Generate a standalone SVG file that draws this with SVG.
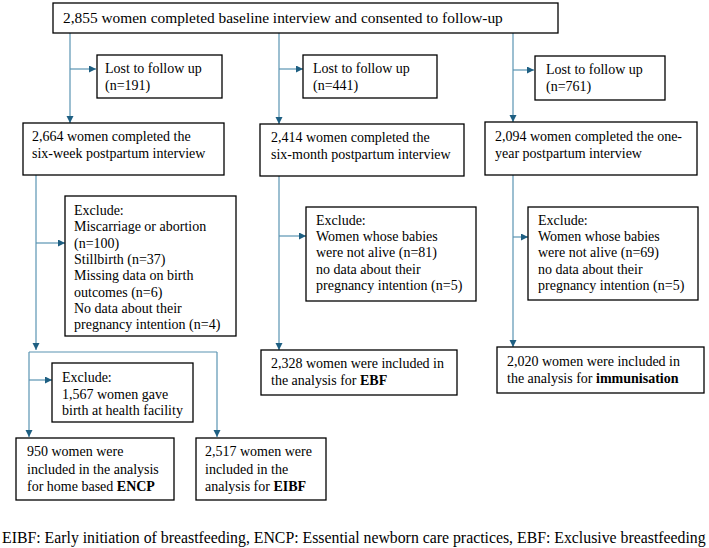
<svg xmlns="http://www.w3.org/2000/svg" width="709" height="548" viewBox="0 0 709 548" font-family="Liberation Serif, Times New Roman, serif">
<defs>
<marker id="ah" markerUnits="userSpaceOnUse" markerWidth="8" markerHeight="8" refX="7" refY="3.5" orient="auto">
<path d="M0,0 L7,3.5 L0,7 z" fill="#1e5f82"/>
</marker>
</defs>
<style>
.box{fill:#fff;stroke:#000;stroke-width:1.3}
.t{font-size:14px;fill:#000}
.h{font-size:15.4px;fill:#000}
.f{font-size:15.8px;fill:#000}
.b{font-weight:bold}
.c{fill:none;stroke:#5a94b2;stroke-width:1.2}
.a{marker-end:url(#ah)}
</style>
<rect width="709" height="548" fill="#fff"/>
<g id="connectors">
<path class="c a" d="M70,33 V123"/>
<path class="c a" d="M70,69 H96"/>
<path class="c a" d="M279,33 V124"/>
<path class="c a" d="M279,69 H303"/>
<path class="c a" d="M513,33 V122"/>
<path class="c a" d="M513,70 H534"/>
<path class="c a" d="M36,175 V350"/>
<path class="c a" d="M36,243 H65"/>
<path class="c" d="M29,352 H217"/>
<path class="c a" d="M29,352 V437"/>
<path class="c a" d="M217,352 V437"/>
<path class="c a" d="M29,380 H52"/>
<path class="c a" d="M279,176 V350"/>
<path class="c a" d="M279,236 H306"/>
<path class="c a" d="M513,175 V347"/>
<path class="c a" d="M513,237 H528"/>
</g>
<g id="baseline" font-family="Liberation Serif, serif">
<rect class="box" x="53" y="3" width="505" height="30"/>
<text class="h" x="63" y="23">2,855 women completed baseline interview and consented to follow-up</text>
</g>
<g id="lost1" font-family="Liberation Serif, serif">
<rect class="box" x="97" y="55" width="125" height="43"/>
<text class="t" x="105" y="73">Lost to follow up</text>
<text class="t" x="105" y="90">(n=191)</text>
</g>
<g id="lost2" font-family="Liberation Serif, serif">
<rect class="box" x="303" y="55" width="134" height="43"/>
<text class="t" x="313" y="73">Lost to follow up</text>
<text class="t" x="313" y="90">(n=441)</text>
</g>
<g id="lost3" font-family="Liberation Serif, serif">
<rect class="box" x="535" y="56" width="130" height="44"/>
<text class="t" x="546" y="74">Lost to follow up</text>
<text class="t" x="546" y="91">(n=761)</text>
</g>
<g id="sixweek" font-family="Liberation Serif, serif">
<rect class="box" x="23" y="123" width="201" height="52"/>
<text class="t" x="32" y="141">2,664 women completed the</text>
<text class="t" x="32" y="158">six-week postpartum interview</text>
</g>
<g id="sixmonth" font-family="Liberation Serif, serif">
<rect class="box" x="260" y="124" width="204" height="52"/>
<text class="t" x="271" y="142">2,414 women completed the</text>
<text class="t" x="271" y="159">six-month postpartum interview</text>
</g>
<g id="oneyear" font-family="Liberation Serif, serif">
<rect class="box" x="485" y="122" width="212" height="53"/>
<text class="t" x="495" y="141">2,094 women completed the one-</text>
<text class="t" x="495" y="158">year postpartum interview</text>
</g>
<g id="exclude1" font-family="Liberation Serif, serif">
<rect class="box" x="65" y="196" width="171" height="140"/>
<text class="t" x="74" y="215">Exclude:</text>
<text class="t" x="74" y="231.3">Miscarriage or abortion</text>
<text class="t" x="74" y="247.6">(n=100)</text>
<text class="t" x="74" y="263.9">Stillbirth (n=37)</text>
<text class="t" x="74" y="280.2">Missing data on birth</text>
<text class="t" x="74" y="296.5">outcomes (n=6)</text>
<text class="t" x="74" y="312.8">No data about their</text>
<text class="t" x="74" y="329.1">pregnancy intention (n=4)</text>
</g>
<g id="exclude2" font-family="Liberation Serif, serif">
<rect class="box" x="306" y="207" width="170" height="94"/>
<text class="t" x="316" y="225">Exclude:</text>
<text class="t" x="316" y="241.2">Women whose babies</text>
<text class="t" x="316" y="257.4">were not alive (n=81)</text>
<text class="t" x="316" y="273.6">no data about their</text>
<text class="t" x="316" y="289.8">pregnancy intention (n=5)</text>
</g>
<g id="exclude3" font-family="Liberation Serif, serif">
<rect class="box" x="528" y="207" width="170" height="93"/>
<text class="t" x="538" y="225">Exclude:</text>
<text class="t" x="538" y="241.2">Women whose babies</text>
<text class="t" x="538" y="257.4">were not alive (n=69)</text>
<text class="t" x="538" y="273.6">no data about their</text>
<text class="t" x="538" y="289.8">pregnancy intention (n=5)</text>
</g>
<g id="exclude4" font-family="Liberation Serif, serif">
<rect class="box" x="52" y="363" width="141" height="59"/>
<text class="t" x="62" y="382">Exclude:</text>
<text class="t" x="62" y="398.5">1,567 women gave</text>
<text class="t" x="62" y="415">birth at health facility</text>
</g>
<g id="ebf" font-family="Liberation Serif, serif">
<rect class="box" x="261" y="350" width="196" height="45"/>
<text class="t" x="271" y="368">2,328 women were included in</text>
<text class="t" x="271" y="385">the analysis for <tspan class="b">EBF</tspan></text>
</g>
<g id="immunisation" font-family="Liberation Serif, serif">
<rect class="box" x="497" y="347" width="207" height="46"/>
<text class="t" x="507" y="366">2,020 women were included in</text>
<text class="t" x="507" y="383">the analysis for <tspan class="b">immunisation</tspan></text>
</g>
<g id="encp" font-family="Liberation Serif, serif">
<rect class="box" x="16" y="438" width="158" height="62"/>
<text class="t" x="27" y="456">950 women were</text>
<text class="t" x="27" y="473.5">included in the analysis</text>
<text class="t" x="27" y="491">for home based <tspan class="b">ENCP</tspan></text>
</g>
<g id="eibf" font-family="Liberation Serif, serif">
<rect class="box" x="196" y="438" width="130" height="62"/>
<text class="t" x="205" y="456">2,517 women were</text>
<text class="t" x="205" y="473.5">included in the</text>
<text class="t" x="205" y="491">analysis for <tspan class="b">EIBF</tspan></text>
</g>
<g id="footnote" font-family="Liberation Serif, serif">
<text class="f" x="2" y="543">EIBF: Early initiation of breastfeeding, ENCP: Essential newborn care practices, EBF: Exclusive breastfeeding</text>
</g>
</svg>
